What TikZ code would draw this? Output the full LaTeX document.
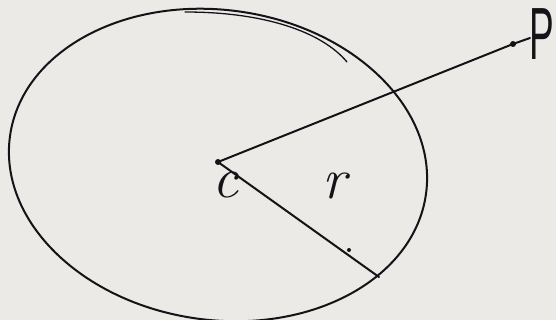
\documentclass[tikz,border=0pt]{standalone}
\usepackage{fontspec}
\newfontfamily\labelsans{Liberation Sans}
\usetikzlibrary{calc}
\definecolor{paper}{RGB}{236,234,231}
\definecolor{ink}{RGB}{20,20,24}
\tikzset{
  inkline/.style={draw=ink, line width=2pt, line cap=round},
  dotmark/.style={circle, fill=ink, inner sep=0pt, minimum size=6pt},
  lbl/.style={text=ink, inner sep=0pt}
}
\begin{document}
\begin{tikzpicture}[x=1pt,y=-1pt]
\fill[paper] (0,0) rectangle (556,320);
\useasboundingbox (0,0) rectangle (556,320);
% circle
\draw[inkline] (218,165) ellipse [x radius=210, y radius=155, rotate=-8];
\draw[inkline, line width=1.3pt] (185,12) .. controls (265,12) and (322,32) .. (347,62);
% points
\node[dotmark] (C) at (218,162) {};
\node[dotmark] (P) at (513,44) {};
\coordinate (R) at (379,277);
\node[dotmark, minimum size=4pt] (T) at (349,250) {};
% lines
\draw[inkline] (C.center) -- (P.center) -- (530,38);
\draw[inkline] (C.center) -- (R);
% labels
\node[lbl, font=\fontsize{58}{58}\selectfont\itshape] (Clbl) at (226,185) {c};
\node[lbl, xscale=0.5, font=\labelsans\fontsize{74}{74}\selectfont] (Plbl) at (542,34) {P};
\node[lbl, font=\fontsize{58}{58}\selectfont\itshape] (rlbl) at (334,186) {r};
\end{tikzpicture}
\end{document}
